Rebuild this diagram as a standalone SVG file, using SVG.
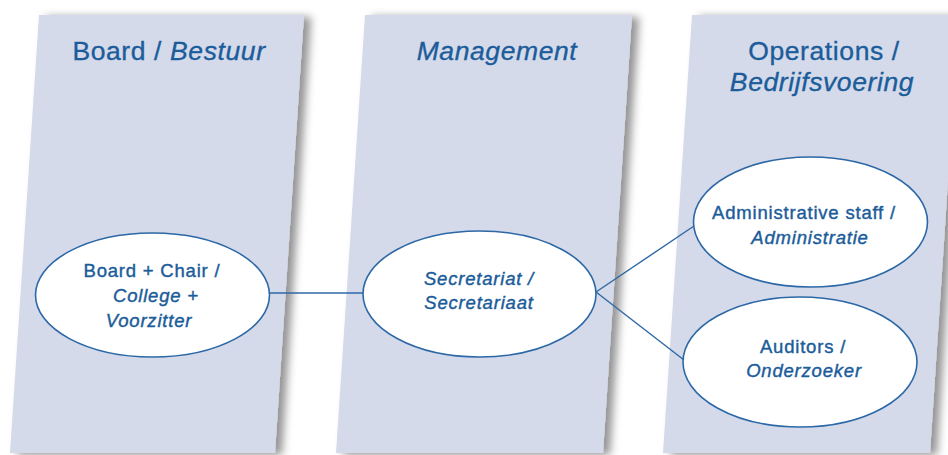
<svg xmlns="http://www.w3.org/2000/svg" width="948" height="455" viewBox="0 0 948 455">
<defs>
<filter id="sh" x="-10%" y="-5%" width="125%" height="112%">
<feDropShadow dx="7" dy="2" stdDeviation="4" flood-color="#000" flood-opacity="0.42"/>
</filter>
<style>
.panel{fill:#D5DAEA;filter:url(#sh)}
.title{font-family:"Liberation Sans",Arial,sans-serif;font-size:26.5px;fill:#1B5C9A;stroke:#1B5C9A;stroke-width:0.35px;text-anchor:middle;letter-spacing:0.6px}
.node ellipse{fill:#fff;stroke:#2C68A6;stroke-width:1.6}
.lbl{font-family:"Liberation Sans",Arial,sans-serif;font-size:18.5px;fill:#1B5C9A;stroke:#1B5C9A;stroke-width:0.4px;text-anchor:middle;letter-spacing:0.8px}
.it{font-style:italic}
.conn line{stroke:#2C68A6;stroke-width:1.4}
</style>
</defs>
<rect width="948" height="455" fill="#fff"/>
<g id="panel-board">
<polygon class="panel" points="39,15 304,15 275,453 10,453"/>
<text class="title" x="169" y="60">Board / <tspan class="it">Bestuur</tspan></text>
</g>
<g id="panel-management">
<polygon class="panel" points="365,15 632,15 603,453 336,453"/>
<text class="title it" x="497" y="60">Management</text>
</g>
<g id="panel-operations">
<polygon class="panel" points="692,15 959,15 930,453 663,453"/>
<text class="title" x="824" y="60">Operations /</text>
<text class="title it" x="822" y="91">Bedrijfsvoering</text>
</g>
<g id="connectors" class="conn">
<line x1="270" y1="293" x2="363" y2="293"/>
<line x1="596" y1="292" x2="694" y2="226"/>
<line x1="596" y1="292" x2="684" y2="360"/>
</g>
<g id="node-board" class="node">
<ellipse cx="152.5" cy="295" rx="117" ry="62"/>
<text class="lbl" x="152" y="277">Board + Chair /</text>
<text class="lbl it" x="156" y="302">College +</text>
<text class="lbl it" x="149" y="327">Voorzitter</text>
</g>
<g id="node-secretariat" class="node">
<ellipse cx="479.5" cy="294" rx="116.5" ry="63"/>
<text class="lbl it" x="479" y="285">Secretariat /</text>
<text class="lbl it" x="479" y="309">Secretariaat</text>
</g>
<g id="node-admin" class="node">
<ellipse cx="810.5" cy="222" rx="117" ry="65"/>
<text class="lbl" x="804" y="219">Administrative staff /</text>
<text class="lbl it" x="810" y="244">Administratie</text>
</g>
<g id="node-auditors" class="node">
<ellipse cx="800" cy="362" rx="117" ry="65"/>
<text class="lbl" x="803" y="353">Auditors /</text>
<text class="lbl it" x="804" y="377">Onderzoeker</text>
</g>
</svg>
